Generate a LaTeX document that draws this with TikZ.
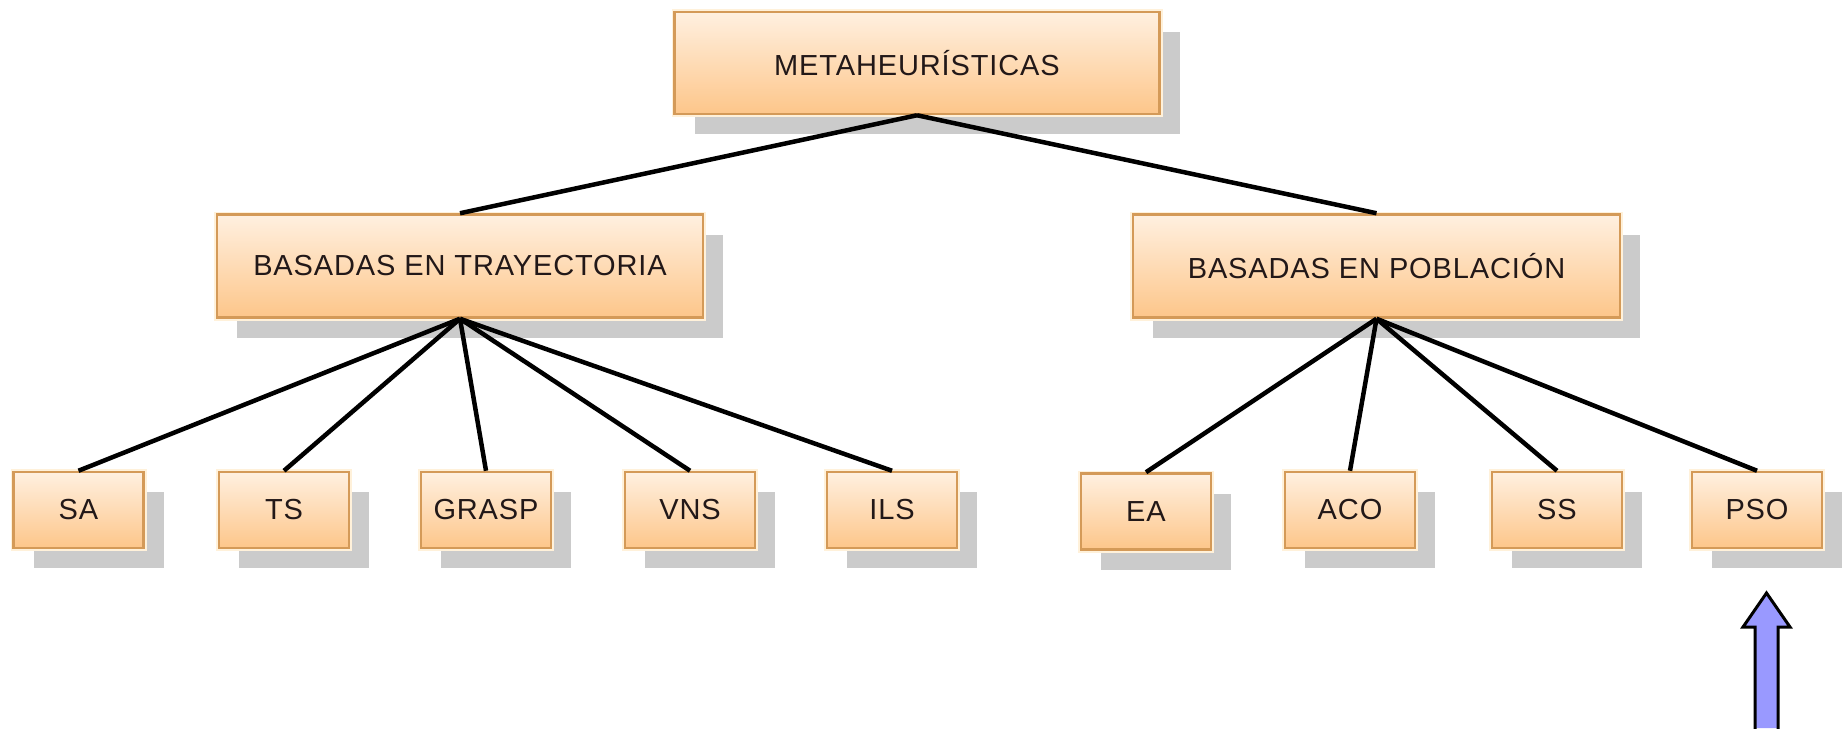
\documentclass[tikz,border=0pt]{standalone}
\usepackage{fontspec}
\setmainfont{Liberation Sans}
\usetikzlibrary{shadows}
\definecolor{boxtop}{HTML}{FFF0E0}
\definecolor{boxbottom}{HTML}{FDC68A}
\definecolor{boxedge}{HTML}{D49A58}
\definecolor{boxglow}{HTML}{FFF1DA}
\definecolor{shadowgray}{HTML}{CBCBCB}
\definecolor{labelink}{HTML}{221818}
\definecolor{arrowfill}{HTML}{9999FF}
\tikzset{
  concept/.style={
    rectangle, draw=boxedge, line width=2.5pt,
    top color=boxtop, bottom color=boxbottom,
    text=labelink, inner sep=0pt,
    font=\fontsize{29}{35}\selectfont\addfontfeatures{LetterSpace=3},
    drop shadow={shadow xshift=20pt, shadow yshift=-20pt,
                 fill=shadowgray, opacity=1, draw=none},
    preaction={draw=boxglow, line width=6pt}
  },
  bigbox/.style={concept, minimum width=486pt, minimum height=103pt},
  leafbox/.style={concept, minimum width=130pt, minimum height=76pt},
  link/.style={draw=black, line width=4.5pt}
}
\begin{document}
\begin{tikzpicture}[x=1pt, y=-1pt]
  \useasboundingbox[fill=white] (0,0) rectangle (1843,728);

  % root and the two families
  \node[bigbox, minimum width=485pt, minimum height=102pt] (meta) at (917,63) {METAHEURÍSTICAS};
  \node[bigbox] (tray) at (460,266) {BASADAS EN TRAYECTORIA};
  \node[bigbox, minimum width=487pt] (pobl) at (1376.5,266) {BASADAS EN POBLACIÓN};

  % trajectory-based methods
  \node[leafbox] (sa)    at (78.5,510) {SA};
  \node[leafbox] (ts)    at (284,510)  {TS};
  \node[leafbox] (grasp) at (486,510)  {GRASP};
  \node[leafbox] (vns)   at (690,510)  {VNS};
  \node[leafbox] (ils)   at (892,510)  {ILS};

  % population-based methods
  \node[leafbox] (ea)  at (1146,511.5) {EA};
  \node[leafbox] (aco) at (1350,510)   {ACO};
  \node[leafbox] (ss)  at (1557,510)   {SS};
  \node[leafbox] (pso) at (1757,510)   {PSO};

  % tree links
  \draw[link] (meta.south) -- (tray.north);
  \draw[link] (meta.south) -- (pobl.north);
  \foreach \leaf in {sa,ts,grasp,vns,ils}
    \draw[link] (tray.south) -- (\leaf.north);
  \foreach \leaf in {ea,aco,ss,pso}
    \draw[link] (pobl.south) -- (\leaf.north);

  % block arrow pointing up at PSO
  \coordinate (tip) at (1766.5,593);
  \fill[arrowfill] (1755,728) -- (1755,627) -- (1743,627) -- (tip)
    -- (1790,627) -- (1778,627) -- (1778,728) -- cycle;
  \draw[black, line width=3pt, line join=miter]
    (1755,729) -- (1755,627) -- (1743,627) -- (tip)
    -- (1790,627) -- (1778,627) -- (1778,729);
\end{tikzpicture}
\end{document}
